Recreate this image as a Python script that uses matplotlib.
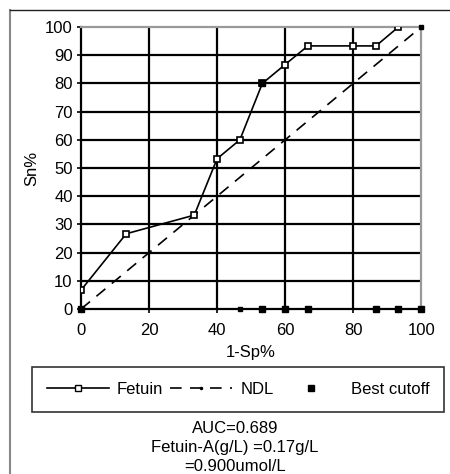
import matplotlib
matplotlib.use('Agg')
import matplotlib.pyplot as plt
from matplotlib.lines import Line2D

plt.rcParams['font.family'] = ['Liberation Sans', 'DejaVu Sans']

# ROC data (1-Sp%, Sn%)
fetuin_x = [0, 13.3, 33.3, 40, 46.7, 53.3, 60, 66.7, 80, 86.7, 93.3]
fetuin_y = [6.7, 26.7, 33.3, 53.3, 60, 80, 86.7, 93.3, 93.3, 93.3, 100]
ndl_x = [0, 100]
ndl_y = [0, 100]
cutoff_x = [0, 53.3, 53.3, 60, 66.7, 86.7, 93.3, 100]
cutoff_y = [0, 80, 0, 0, 0, 0, 0, 0]
small_cut_x = [46.7, 100]
small_cut_y = [0, 100]
ticks_x = [0, 20, 40, 60, 80, 100]
ticks_y = list(range(0, 101, 10))
notes = ['AUC=0.689', 'Fetuin-A(g/L) =0.17g/L', '=0.900umol/L']

fs = 12
fig = plt.figure(figsize=(4.5, 4.74), dpi=100)
ax = fig.add_axes([0.18, 0.348, 0.756, 0.595])

# outer frame (left and top edges)
fig.add_artist(Line2D([0.022, 0.022], [0, 0.979], color='#888888', lw=1.5))
fig.add_artist(Line2D([0.022, 1.0], [0.979, 0.979], color='#222222', lw=1.0))

for v in ticks_x[1:-1]:
    ax.axvline(v, color='black', lw=1.6, zorder=1)
for v in ticks_y[1:-1]:
    ax.axhline(v, color='black', lw=1.6, zorder=1)

ax.plot(ndl_x, ndl_y, color='black', ls=(0, (7, 5)), lw=1.2, zorder=2)
ax.plot(fetuin_x, fetuin_y, color='black', lw=1.2, marker='s', ms=4.8,
        mfc='white', mec='black', mew=1.2, zorder=3)
ax.plot(cutoff_x, cutoff_y, ls='none', marker='s', ms=4.8, color='black',
        zorder=4, clip_on=False)
ax.plot(small_cut_x, small_cut_y, ls='none', marker='s', ms=2.5, color='black',
        zorder=4, clip_on=False)

ax.set_xlim(0, 100)
ax.set_ylim(0, 100)
ax.set_xticks(ticks_x)
ax.set_yticks(ticks_y)
ax.tick_params(labelsize=fs, length=3, width=1.2, color='black', direction='out', pad=3)
ax.tick_params(axis='x', pad=7)
ax.spines['left'].set_linewidth(1.6)
ax.spines['bottom'].set_linewidth(1.6)
ax.spines['top'].set_color('#999999')
ax.spines['right'].set_color('#999999')
ax.spines['top'].set_linewidth(1.6)
ax.spines['right'].set_linewidth(1.6)
ax.set_xlabel('1-Sp%', fontsize=fs, labelpad=5)
ax.set_ylabel('Sn%', fontsize=fs, labelpad=4)

handles = [
    Line2D([], [], color='black', lw=1.2, marker='s', ms=4.8, mfc='white', mec='black'),
    Line2D([], [], color='black', ls=(0, (7, 5)), lw=1.2, marker='o', ms=1.5),
    Line2D([], [], ls='none', marker='s', ms=4.8, color='black'),
]
leg = fig.legend(handles, ['Fetuin', 'NDL', 'Best cutoff'], loc='lower left',
                 bbox_to_anchor=(0.071, 0.131, 0.916, 0.097), mode='expand',
                 ncol=3, fontsize=fs, frameon=True, fancybox=False,
                 edgecolor='black', handlelength=3.7, columnspacing=0.8,
                 handletextpad=0.5, borderpad=0.9, borderaxespad=0)
leg.get_frame().set_linewidth(1.2)

for i, t in enumerate(notes):
    fig.text(0.522, 0.097 - i * 0.041, t, ha='center', va='center', fontsize=fs)

fig.savefig('out.png', dpi=100)
